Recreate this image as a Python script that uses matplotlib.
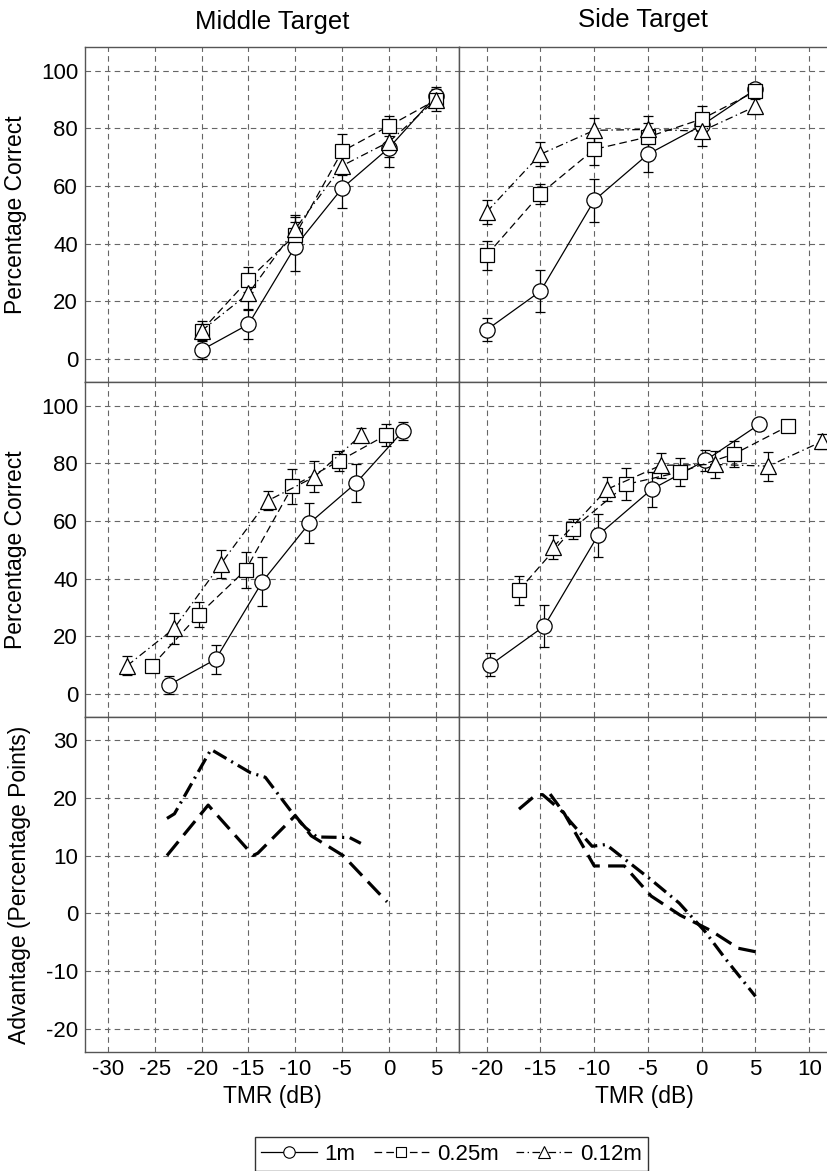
import matplotlib
matplotlib.use('Agg')
import matplotlib.pyplot as plt
from matplotlib.lines import Line2D

plt.rcParams['font.family'] = ['Liberation Sans', 'DejaVu Sans']
plt.rcParams['lines.scale_dashes'] = False
plt.rcParams['axes.unicode_minus'] = False

# TMR values (dB) of the measured points
tmr = [-20, -15, -10, -5, 0, 5]

# Middle target - percentage correct and error bars
mid_1m = [3.1, 12.0, 39.0, 59.2, 73.2, 91.2]
mid_1m_err = [3.0, 5.0, 8.5, 7.0, 6.5, 3.0]
mid_025 = [9.8, 27.5, 43.0, 72.0, 80.8, 89.8]
mid_025_err = [2.0, 4.3, 6.3, 6.0, 3.3, 3.7]
mid_012 = [9.8, 22.7, 45.1, 67.0, 75.3, 89.8]
mid_012_err = [3.3, 5.4, 5.0, 3.3, 5.4, 2.5]

# Side target
side_1m = [10.1, 23.5, 55.0, 71.0, 81.0, 93.5]
side_1m_err = [4.0, 7.3, 7.5, 6.0, 3.5, 2.0]
side_025 = [36.0, 57.3, 72.7, 77.0, 83.2, 92.8]
side_025_err = [5.0, 3.4, 5.5, 5.0, 4.4, 2.0]
side_012 = [51.0, 71.0, 79.3, 79.6, 79.0, 87.6]
side_012_err = [4.2, 4.1, 4.3, 4.6, 5.0, 2.5]

# shift of each curve (dB) in the middle row: 1m, 0.25m, 0.12m
mid_shift = [-3.5, -5.3, -7.95]
side_shift = [0.35, 3.0, 6.2]

# advantage over 1m (percentage points)
mid_adv025_x = [-23.7, -19.3, -14.5, -14.0, -10.0, -8.3, -4.9, -0.2]
mid_adv025_y = [10.0, 18.7, 10.0, 10.4, 16.9, 13.4, 10.0, 2.0]
mid_adv012_x = [-23.7, -22.9, -19.0, -14.8, -13.2, -10.2, -8.9, -7.7, -4.2, -3.0]
mid_adv012_y = [16.4, 17.2, 28.3, 24.3, 23.5, 17.1, 14.8, 13.2, 13.1, 12.1]
side_adv025_x = [-17.0, -15.4, -14.8, -12.8, -10.0, -7.2, -4.7, -2.0, 0.8, 3.4, 5.0]
side_adv025_y = [18.0, 20.5, 20.5, 17.3, 8.2, 8.2, 3.0, -0.3, -2.9, -6.0, -6.6]
side_adv012_x = [-14.1, -12.3, -10.2, -8.9, -4.7, -2.1, 0.3, 2.2, 5.0]
side_adv012_y = [20.6, 16.0, 11.6, 11.9, 5.8, 1.8, -3.1, -7.8, -14.3]

labels = ['1m', '0.25m', '0.12m']
markers = ['o', 's', '^']
msizes = [11, 9.5, 11]
styles = ['-', (0, (5.5, 3)), (0, (5.5, 2.5, 1, 2.5))]
adv_styles = [(0, (13, 6)), (0, (11, 4, 1.5, 4))]

W, H = 828, 1171
fig = plt.figure(figsize=(W / 100, H / 100), dpi=100)

def px_axes(x0, x1, y0, y1):
    return fig.add_axes([x0 / W, 1 - y1 / H, (x1 - x0) / W, (y1 - y0) / H])

rows = [(47, 382), (382, 717), (717, 1052)]
cols = [(85, 459), (459, 829)]
axes = [[px_axes(c[0], c[1], r[0], r[1]) for c in cols] for r in rows]

def style_axes(ax, xlim, xticks, ylim, yticks, left, bottom):
    ax.set_xlim(*xlim)
    ax.set_ylim(*ylim)
    ax.set_xticks(xticks)
    ax.set_yticks(yticks)
    ax.grid(True, color='#666666', ls=(0, (4, 3)), lw=0.8, zorder=0)
    ax.set_axisbelow(True)
    ax.tick_params(length=0, labelsize=16, pad=5)
    if not left:
        ax.set_yticklabels([])
    if not bottom:
        ax.set_xticklabels([])
    for s in ax.spines.values():
        s.set_color('#555555')
        s.set_linewidth(1.0)

def draw(ax, x, y, err, i):
    ax.errorbar(x, y, yerr=err, fmt='none', ecolor='k', elinewidth=0.9,
                capsize=3.8, capthick=0.9, zorder=3)
    ax.plot(x, y, color='k', lw=0.9, ls=styles[i], marker=markers[i], ms=msizes[i],
            mfc='white', mec='k', mew=0.9, zorder=4 + i)

xlims = [(-32.45, 7.48), (-22.58, 11.84)]
xticks = [list(range(-30, 10, 5)), list(range(-20, 15, 5))]

mid_data = [(mid_1m, mid_1m_err), (mid_025, mid_025_err), (mid_012, mid_012_err)]
side_data = [(side_1m, side_1m_err), (side_025, side_025_err), (side_012, side_012_err)]
shifts = [mid_shift, side_shift]

for c, data in enumerate([mid_data, side_data]):
    for r in range(2):
        ax = axes[r][c]
        style_axes(ax, xlims[c], xticks[c], (-8.0, 108.2), range(0, 101, 20), c == 0, False)
        for i, (y, e) in enumerate(data):
            x = tmr if r == 0 else [t + shifts[c][i] for t in tmr]
            draw(ax, x, y, e, i)

adv = [[(mid_adv025_x, mid_adv025_y), (mid_adv012_x, mid_adv012_y)],
       [(side_adv025_x, side_adv025_y), (side_adv012_x, side_adv012_y)]]
for c in range(2):
    ax = axes[2][c]
    style_axes(ax, xlims[c], xticks[c], (-23.9, 33.9), range(-20, 31, 10), c == 0, True)
    for j, (x, y) in enumerate(adv[c]):
        ax.plot(x, y, color='k', lw=2.3, ls=adv_styles[j], zorder=4)
    ax.set_xlabel('TMR (dB)', fontsize=16.5)
    ax.xaxis.set_label_coords(0.5, -0.1)

for r in range(3):
    axes[r][1].spines['right'].set_visible(False)

axes[0][0].set_ylabel('Percentage Correct', fontsize=16.5)
axes[1][0].set_ylabel('Percentage Correct', fontsize=16.5)
axes[2][0].set_ylabel('Advantage (Percentage Points)', fontsize=16.5)
for r in range(2):
    axes[r][0].yaxis.set_label_coords(-0.155, 0.5)
axes[2][0].yaxis.set_label_coords(-0.145, 0.5)

fig.text(272 / W, 1 - 22 / H, 'Middle Target', fontsize=18.5, ha='center', va='center')
fig.text(643 / W, 1 - 20 / H, 'Side Target', fontsize=18.5, ha='center', va='center')

handles = [Line2D([0], [0], color='k', lw=0.9, ls=styles[i], marker=markers[i],
                  ms=msizes[i] * 0.75, mfc='white', mec='k', mew=0.8) for i in range(3)]
leg = fig.legend(handles, labels, loc='upper center', bbox_to_anchor=(451.5 / W, 1 - 1137 / H),
                 ncol=3, fontsize=16, frameon=True, fancybox=False, edgecolor='k',
                 handlelength=2.5, handletextpad=0.35, columnspacing=0.8, borderpad=0.3,
                 borderaxespad=0)
leg.get_frame().set_linewidth(1.0)

fig.savefig('out.png', dpi=100)
